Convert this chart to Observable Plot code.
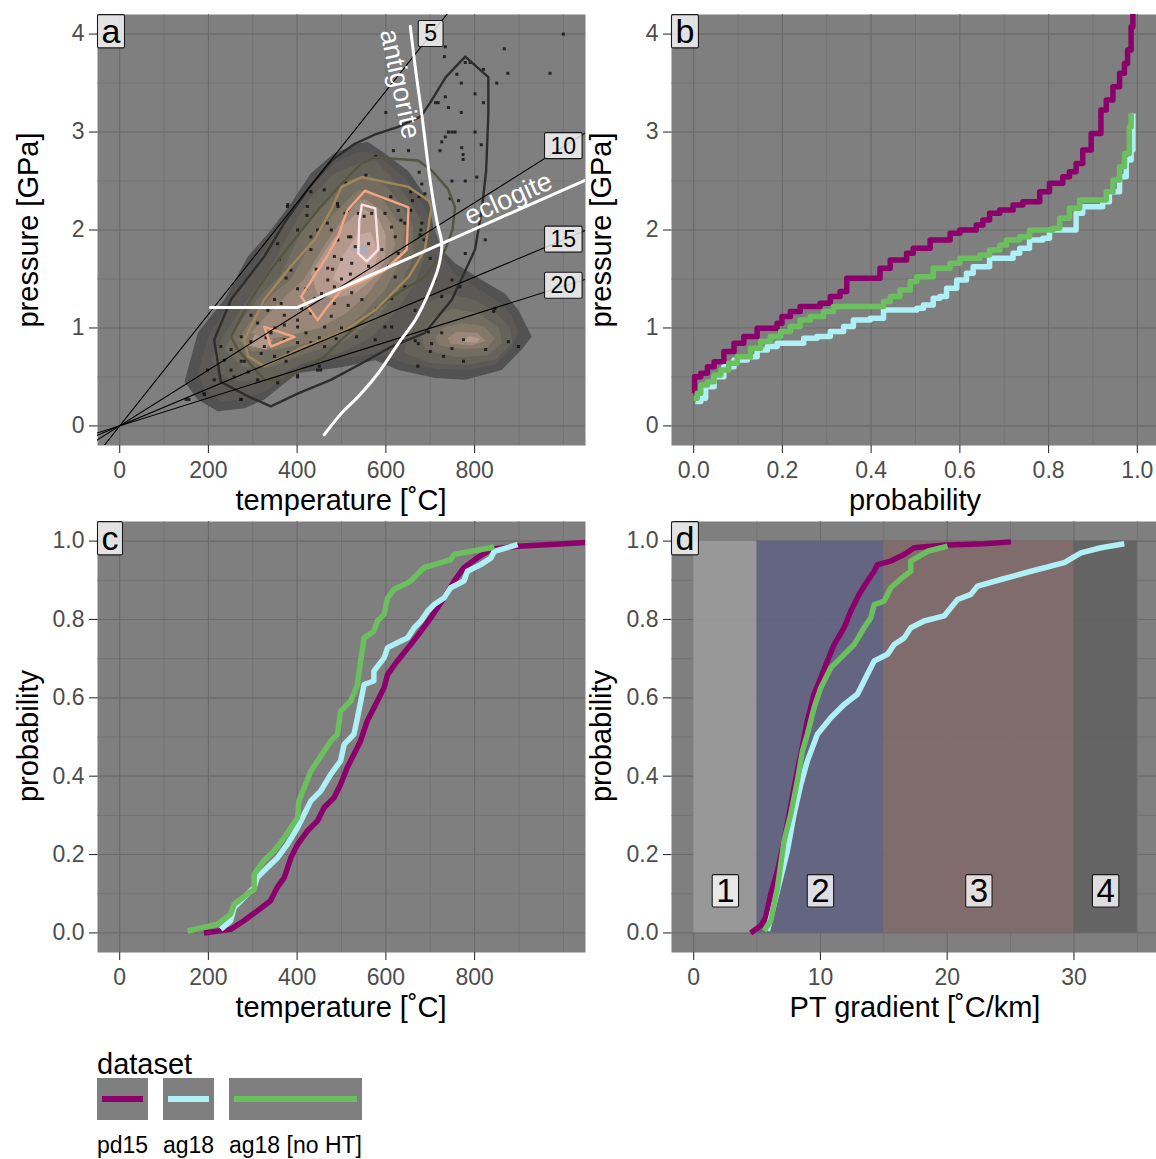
<!DOCTYPE html>
<html><head><meta charset="utf-8">
<script src="https://cdn.jsdelivr.net/npm/d3@7"></script>
<script src="https://cdn.jsdelivr.net/npm/@observablehq/plot@0.6"></script>
<style>
body{margin:0;background:#fff;}
#root{position:relative;width:1156px;height:1159px;overflow:hidden;background:#fff;font-family:'Liberation Sans',Arial,Helvetica,sans-serif;}
.pw{position:absolute;top:0;}
.ttl{position:absolute;font-size:29px;line-height:1;color:#000;white-space:nowrap;}
.leg{position:absolute;white-space:nowrap;color:#000;line-height:1;}
</style></head><body><div id="root"></div>
<script>
// ---------------- DATA ----------------
const datasets = ["pd15", "ag18", "ag18 [no HT]"];
const tempTicks = [0, 200, 400, 600, 800];
const tempMinor = [100, 300, 500, 700, 900, 1000];
const presTicks = [0, 1, 2, 3, 4];
const presMinor = [0.5, 1.5, 2.5, 3.5];
const probTicks = [0, 0.2, 0.4, 0.6, 0.8, 1.0];
const probMinor = [0.1, 0.3, 0.5, 0.7, 0.9];
const gradTicks = [0, 10, 20, 30];
const gradMinor = [5, 15, 25, 35];

// panel a: filled density levels (T [C], P [GPa]) polygons
const fillLev1 = [[[146,0.45],[176,0.95],[236,1.29],[289,1.73],[341,2.0],[386,2.27],[431,2.58],[483,2.78],[536,2.88],[559,2.9],[598,2.78],[651,2.6],[696,2.3],[707,2.03],[726,1.8],[756,1.66],[816,1.49],[869,1.35],[899,1.18],[929,0.91],[906,0.78],[861,0.57],[779,0.47],[711,0.49],[628,0.57],[576,0.67],[500,0.6],[401,0.54],[326,0.27],[281,0.18],[221,0.15],[176,0.27]]];
const fillLev2 = [[[176,0.54],[200,0.92],[255,1.3],[311,1.69],[352,1.98],[395,2.22],[440,2.5],[490,2.7],[540,2.8],[565,2.8],[600,2.7],[645,2.52],[685,2.25],[706,2.03],[722,1.76],[755,1.56],[812,1.39],[858,1.26],[885,1.12],[899,0.95],[885,0.8],[848,0.63],[785,0.57],[715,0.58],[640,0.64],[580,0.74],[500,0.68],[410,0.62],[330,0.36],[285,0.27],[228,0.25],[190,0.38]]];
const fillLev3 = [[[206,0.67],[240,0.97],[290,1.3],[341,1.63],[380,1.95],[425,2.3],[480,2.57],[540,2.68],[576,2.71],[620,2.5],[660,2.25],[688,2.03],[690,1.75],[665,1.45],[620,1.15],[565,0.9],[500,0.75],[420,0.65],[340,0.48],[270,0.45],[230,0.52]],
  [[640,0.75],[700,0.64],[780,0.62],[850,0.68],[885,0.85],[880,1.0],[850,1.15],[800,1.29],[740,1.35],[690,1.25],[655,1.0]]];
const fillLev4 = [[[236,0.78],[275,1.08],[320,1.35],[364,1.55],[405,1.95],[450,2.25],[510,2.5],[561,2.57],[605,2.43],[640,2.22],[662,2.03],[660,1.7],[625,1.35],[575,1.08],[500,0.85],[420,0.74],[340,0.6],[280,0.6]],
  [[690,0.78],[760,0.7],[830,0.72],[862,0.85],[855,1.0],[810,1.15],[750,1.2],[705,1.1],[680,0.93]]];
const fillLev5 = [[[266,0.88],[300,1.1],[345,1.35],[386,1.5],[430,1.85],[480,2.15],[530,2.38],[557,2.42],[595,2.3],[625,2.1],[643,2.03],[635,1.7],[600,1.4],[550,1.15],[500,0.95],[430,0.85],[350,0.78],[300,0.76]],
  [[720,0.82],[780,0.78],[830,0.8],[845,0.9],[820,1.02],[770,1.05],[730,1.0],[712,0.9]]];
const fillLev6 = [[[296,0.95],[330,1.12],[380,1.35],[416,1.5],[455,1.8],[500,2.1],[540,2.3],[553,2.32],[590,2.2],[615,2.05],[621,1.85],[600,1.6],[560,1.35],[510,1.15],[450,1.0],[380,0.92],[330,0.88]],
  [[745,0.84],[795,0.82],[825,0.87],[805,0.95],[760,0.96],[740,0.9]]];
const fillLev7 = [[[431,1.56],[465,1.8],[505,2.05],[546,2.22],[580,2.15],[600,1.95],[598,1.7],[570,1.5],[530,1.35],[480,1.3],[445,1.35]],
  [[290,0.82],[330,0.78],[345,0.88],[305,0.93]],
  [[770,0.86],[805,0.85],[812,0.89],[790,0.92]]];
const fillLev8 = [[[480,1.5],[505,1.75],[535,1.95],[565,1.98],[582,1.8],[575,1.6],[550,1.48],[510,1.42]]];
const fillLev9 = [[[516,1.8],[557,1.85],[557,1.75]]];

// panel a: line contours
const lineLev1 = [[228,0.45],[213,0.88],[251,1.29],[326,1.73],[371,2.07],[430,2.45],[480,2.72],[530,2.88],[573,2.97],[626,3.05],[679,3.16],[700,3.3],[735,3.56],[779,3.77],[831,3.56],[831,3.18],[826,2.6],[816,2.2],[801,1.8],[749,1.29],[688,0.95],[613,0.81],[546,0.64],[476,0.47],[401,0.33],[341,0.2],[290,0.3]];
const lineLev2 = [[251,0.91],[295,1.29],[340,1.59],[386,1.86],[446,2.2],[506,2.5],[545,2.68],[576,2.74],[673,2.71],[703,2.61],[740,2.42],[756,2.23],[750,2.0],[734,1.8],[688,1.52],[613,1.32],[561,1.12],[500,0.88],[462,0.71],[371,0.47],[326,0.47],[266,0.78]];
const lineLev3 = [[281,0.88],[326,1.29],[386,1.63],[439,1.9],[476,2.2],[500,2.44],[546,2.54],[651,2.44],[696,2.3],[703,2.24],[688,1.8],[651,1.52],[576,1.18],[500,0.95],[416,0.81],[326,0.61],[289,0.71]];
const lineLev4a = [[409,1.32],[470,1.75],[492,1.93],[513,2.2],[553,2.4],[651,2.23],[647,1.8],[598,1.59],[538,1.46],[500,1.39],[469,1.22],[446,1.08]];
const lineLev4b = [[326,1.01],[394,0.91],[341,0.81]];
const lineLev5 = [[546,2.26],[576,2.22],[583,1.8],[557,1.68],[538,1.76],[540,2.1]];

// panel a: scatter of samples (T, P)
const samples = [[1000,4.0],[734,3.87],[867,3.85],[732,3.77],[779,3.71],[790,3.71],[820,3.64],[875,3.6],[970,3.6],[760,3.59],[850,3.5],[770,3.5],[734,3.36],[801,3.39],[712,3.3],[718,3.3],[741,3.25],[820,3.3],[600,3.2],[770,3.2],[741,3.0],[749,3.0],[756,3.0],[801,3.0],[734,2.95],[726,2.9],[722,2.81],[617,2.81],[651,2.81],[771,2.84],[815,2.87],[774,2.77],[774,2.72],[675,2.59],[749,2.5],[779,2.5],[805,2.54],[681,2.47],[688,2.37],[745,2.32],[764,2.3],[660,2.3],
[577,2.75],[555,2.56],[510,2.48],[461,2.41],[431,2.39],[378,2.24],[491,2.27],[513,2.2],[551,2.14],[611,2.34],[656,2.39],[675,2.34],[656,2.2],[679,2.0],[686,1.9],[634,2.1],[423,2.24],[468,2.07],[491,1.9],[521,1.93],
[824,1.9],[779,1.76],[749,1.49],[767,1.42],[700,1.71],[711,1.49],[726,1.32],[846,1.2],[843,1.17],[876,0.86],[899,0.81],[825,0.78],[775,0.66],[672,0.61],[730,0.71],[700,0.76],[673,0.84],[666,0.87],[703,0.84],[749,0.79],[775,0.88],[726,0.95],[696,0.96],[613,1.3],[613,1.01],[598,1.01],[568,1.15],[546,1.29],[523,1.36],[515,1.23],[519,0.98],[534,0.91],[576,0.88],[636,0.88],[666,1.18],[643,1.42],[621,1.52],[606,1.63],[658,1.73],[677,1.95],[681,2.07],[508,2.17],[538,2.17],[568,2.17],[598,2.17],[628,2.2],[643,2.07],[516,1.93],[531,1.83],[561,1.86],[591,1.8],[621,1.93],[628,1.76],[523,1.66],[561,1.63],[613,2.03],
[379,2.26],[422,2.15],[360,1.7],[401,2.0],[431,1.8],[443,1.6],[469,1.61],[480,1.6],[386,1.59],[375,1.51],[401,1.4],[469,1.49],[484,1.42],[349,1.29],[334,1.18],[371,1.13],[371,1.03],[401,1.08],[401,1.01],[431,1.15],[462,1.01],[477,1.12],[484,1.25],[296,1.13],[311,1.05],[274,0.91],[296,0.86],[326,0.81],[371,0.88],[401,0.85],[431,0.85],[462,0.81],[488,0.89],[319,0.74],[349,0.71],[375,0.66],[274,0.66],[281,0.66],[251,0.78],[236,0.67],[251,0.57],[198,0.57],[213,0.47],[258,0.5],[311,0.47],[356,0.44],[401,0.5],[446,0.57],[450,0.61],[150,0.27],[191,0.32],[274,0.27],[228,0.81],[341,0.95],[364,1.25],[431,1.93],[356,1.86],[492,2.24],[492,1.9],[477,2.0],[484,1.73],[446,2.0],
[401,0.52],[453,0.57],[273,0.27],[190,0.33],[156,0.27],[440,1.3],[455,1.35],[500,1.5],[520,1.55],[420,1.4],[410,1.2],[500,1.7],[580,1.2],[420,0.95],[350,1.0],[330,0.9],[290,0.55],[380,0.75],[450,0.9],[500,1.0]];

// panel a: geotherms (C/km) drawn as lines through two end points
const geoGrad = [5, 10, 15, 20];
const geoEnds = [[[-60,-0.342],[760,4.33]], [[-60,-0.171],[1100,3.135]], [[-60,-0.114],[1100,2.09]], [[-60,-0.0855],[1100,1.5675]]];
const geoLabelPos = [[701,4.0],[1000,2.855],[1000,1.9],[1000,1.43]];
const antigorite = [[655,4.08],[668,3.6],[681,3.18],[700,2.5],[715,2.09],[726,1.86],[719,1.63],[696,1.35],[666,1.08],[628,0.84],[583,0.54],[538,0.3],[500,0.13],[461,-0.09]];
const eclogite = [[204,1.21],[401,1.21],[1060,2.53]];
const reactionLabels = ["antigorite", "eclogite"];
const reactionLabelPos = [[632,3.49],[876,2.32]];

// panel b: probability vs pressure
const b_pd15 = [[0,0.333],[0.002,0.503],[0.016,0.537],[0.031,0.605],[0.046,0.656],[0.068,0.759],[0.091,0.844],[0.113,0.912],[0.143,0.997],[0.188,1.048],[0.199,1.116],[0.218,1.167],[0.24,1.218],[0.285,1.252],[0.308,1.32],[0.33,1.371],[0.345,1.507],[0.398,1.507],[0.42,1.609],[0.443,1.694],[0.48,1.762],[0.495,1.813],[0.533,1.898],[0.578,1.966],[0.6,2.0],[0.637,2.051],[0.652,2.102],[0.667,2.17],[0.69,2.204],[0.72,2.255],[0.742,2.289],[0.78,2.391],[0.802,2.476],[0.832,2.544],[0.847,2.595],[0.862,2.68],[0.877,2.816],[0.896,2.986],[0.918,3.224],[0.93,3.327],[0.945,3.463],[0.96,3.599],[0.971,3.701],[0.978,3.837],[0.986,4.075],[0.99,4.3]];
const b_ag18 = [[0.004,0.248],[0.016,0.282],[0.027,0.401],[0.046,0.503],[0.068,0.605],[0.091,0.673],[0.121,0.707],[0.143,0.776],[0.166,0.81],[0.188,0.844],[0.233,0.844],[0.248,0.895],[0.278,0.912],[0.308,0.963],[0.338,1.014],[0.36,1.082],[0.398,1.099],[0.428,1.184],[0.503,1.201],[0.518,1.235],[0.54,1.303],[0.555,1.32],[0.57,1.405],[0.593,1.49],[0.615,1.558],[0.63,1.626],[0.652,1.626],[0.667,1.711],[0.705,1.711],[0.72,1.762],[0.735,1.813],[0.757,1.898],[0.787,1.915],[0.802,2.0],[0.847,2.0],[0.862,2.17],[0.877,2.238],[0.922,2.289],[0.937,2.391],[0.96,2.544],[0.975,2.714],[0.986,2.816],[0.99,3.19]];
const b_noHT = [[0,0.282],[0.008,0.333],[0.016,0.418],[0.031,0.452],[0.046,0.52],[0.061,0.571],[0.079,0.639],[0.098,0.707],[0.128,0.793],[0.151,0.861],[0.173,0.912],[0.196,0.963],[0.218,1.014],[0.24,1.082],[0.263,1.116],[0.293,1.167],[0.315,1.218],[0.398,1.218],[0.428,1.269],[0.443,1.32],[0.465,1.388],[0.488,1.473],[0.503,1.524],[0.54,1.609],[0.578,1.66],[0.6,1.711],[0.645,1.745],[0.667,1.796],[0.69,1.847],[0.705,1.898],[0.735,1.932],[0.757,2.0],[0.81,2.017],[0.825,2.119],[0.847,2.221],[0.87,2.306],[0.915,2.306],[0.93,2.391],[0.945,2.51],[0.96,2.646],[0.971,2.782],[0.982,3.054],[0.986,3.19]];

// panel c: temperature vs cumulative probability
const c_pd15 = [[190,0],[250,0.009],[280,0.031],[310,0.056],[340,0.082],[355,0.116],[371,0.141],[386,0.192],[401,0.226],[423,0.26],[446,0.286],[461,0.32],[483,0.345],[498,0.379],[513,0.422],[528,0.456],[543,0.49],[558,0.541],[581,0.592],[596,0.626],[604,0.66],[626,0.694],[656,0.736],[679,0.77],[701,0.804],[731,0.855],[754,0.898],[776,0.932],[806,0.957],[837,0.979],[897,0.987],[972,0.991],[1060,0.997]];
const c_ag18 = [[228,0.009],[250,0.031],[258,0.065],[288,0.099],[303,0.116],[310,0.141],[333,0.167],[356,0.192],[378,0.226],[401,0.269],[416,0.303],[431,0.337],[453,0.362],[476,0.405],[498,0.439],[506,0.481],[528,0.507],[536,0.549],[551,0.634],[573,0.643],[573,0.668],[596,0.702],[604,0.728],[634,0.745],[649,0.753],[664,0.779],[679,0.796],[694,0.821],[709,0.838],[731,0.855],[746,0.881],[776,0.898],[784,0.923],[814,0.94],[837,0.957],[844,0.974],[897,0.991]];
const c_noHT = [[153,0.005],[220,0.022],[250,0.048],[258,0.073],[288,0.099],[303,0.111],[303,0.15],[325,0.184],[348,0.209],[371,0.243],[386,0.269],[401,0.294],[404,0.337],[431,0.413],[446,0.439],[476,0.49],[491,0.507],[498,0.566],[521,0.592],[536,0.634],[543,0.694],[551,0.753],[573,0.77],[581,0.796],[596,0.813],[604,0.855],[619,0.877],[641,0.889],[656,0.898],[671,0.915],[686,0.932],[709,0.94],[746,0.953],[754,0.966],[792,0.974],[837,0.983],[844,0.987]];

// panel d: PT gradient vs cumulative probability
const d_pd15 = [[4.5,0],[5.29,0.018],[5.68,0.039],[6.08,0.099],[6.61,0.158],[7.13,0.235],[7.53,0.303],[7.92,0.371],[8.45,0.456],[8.97,0.541],[9.5,0.609],[10.03,0.651],[10.55,0.694],[11.08,0.736],[11.87,0.779],[12.39,0.821],[13.05,0.864],[13.71,0.898],[14.24,0.923],[14.5,0.94],[15.55,0.949],[16.61,0.966],[17.39,0.983],[18.71,0.987],[20.03,0.99],[22.92,0.993],[25.03,0.998]];
const d_ag18 = [[5.82,0.005],[6.34,0.073],[6.87,0.141],[7.39,0.209],[7.92,0.303],[8.45,0.379],[8.97,0.439],[9.76,0.507],[10.82,0.549],[11.87,0.583],[12.92,0.609],[13.71,0.66],[14.24,0.694],[15.29,0.711],[15.82,0.736],[16.61,0.753],[17.13,0.779],[18.18,0.796],[19.76,0.809],[20.82,0.851],[21.87,0.864],[22.39,0.885],[24.24,0.902],[26.61,0.923],[29.24,0.945],[30.55,0.97],[32.13,0.983],[33.97,0.993]];
const d_noHT = [[5.55,0.005],[6.08,0.031],[6.61,0.116],[7.13,0.235],[7.66,0.303],[8.18,0.388],[8.58,0.464],[8.97,0.507],[9.5,0.575],[10.03,0.626],[10.82,0.677],[11.61,0.702],[12.66,0.736],[13.45,0.779],[13.97,0.804],[14.24,0.838],[15.03,0.847],[15.55,0.881],[16.61,0.911],[17.13,0.923],[17.13,0.949],[18.45,0.974],[20.03,0.987]];
const bandStart = [0, 5, 15, 30];
const bandEnd = [5, 15, 30, 35];
const bandNames = ["1", "2", "3", "4"];
const bandLabelX = [2.5, 10, 22.5, 32.5];
const bandLabelP = 0.105;

// ---------------- STYLE ----------------
const FONT = "'Liberation Sans', Arial, Helvetica, sans-serif";
const BG = "#7f7f7f", GRID = "#6b6b6b";
const COLORS = ["#8c006b", "#aef0f5", "#6cbf5f"];
const FILL_COLORS = ["#525252", "#5b5855", "#65625a", "#726c61", "#847869", "#9a8779", "#b2998c", "#c6a9a1", "#a9adb6"];
const LINE_COLORS = ["#2e2e2e", "#56553f", "#a3875a", "#f4a582", "#fbe3e0"];
const BAND_COLORS = ["#9a9a9a", "#616381", "#806a6a", "#626262"];
const fillLevels = [fillLev1, fillLev2, fillLev3, fillLev4, fillLev5, fillLev6, fillLev7, fillLev8, fillLev9];
const fmt1 = d3.format(".1f");

const X = d => d[0], Y = d => d[1];

function frameMarks(xMaj, xMin, yMaj, yMin, xFmt, yFmt) {
  return [
    Plot.frame({fill: BG, stroke: "none"}),
    Plot.gridX(xMin, {stroke: GRID, strokeOpacity: 1, strokeWidth: 0.6}),
    Plot.gridY(yMin, {stroke: GRID, strokeOpacity: 1, strokeWidth: 0.6}),
    Plot.gridX(xMaj, {stroke: GRID, strokeOpacity: 1, strokeWidth: 1.15}),
    Plot.gridY(yMaj, {stroke: GRID, strokeOpacity: 1, strokeWidth: 1.15}),
    Plot.axisX(xMaj, {tickSize: 8, tickPadding: 8, fontSize: 23, stroke: "#333", strokeWidth: 1.1, fill: "#4d4d4d", tickFormat: xFmt, label: null}),
    Plot.axisY(yMaj, {tickSize: 8, tickPadding: 5, fontSize: 23, stroke: "#333", strokeWidth: 1.1, fill: "#4d4d4d", tickFormat: yFmt, label: null})
  ];
}
function letter(l) {
  return Plot.text([l], {text: d => d, frameAnchor: "top-left", textAnchor: "start", lineAnchor: "top", dx: 4, dy: 4.6, fontSize: 34, fill: "#000", ariaDescription: "boxed"});
}
function seriesLines(arrs, curve) {
  return arrs.map((a, i) => Plot.line(a, {x: X, y: Y, stroke: COLORS[i], strokeWidth: 5.5, curve, clip: true, strokeLinejoin: "round", strokeLinecap: "butt"}));
}
const common = {width: 585, height: 520, marginTop: 14, marginBottom: 75, style: {fontFamily: FONT, fontSize: "23px", background: "transparent", overflow: "visible"}};
const leftM = {marginLeft: 97, marginRight: 0};
const rightM = {marginLeft: 86, marginRight: 11};

// panel a
const geoRows = geoEnds.flatMap((e, i) => e.map(p => ({T: p[0], P: p[1], g: geoGrad[i]})));
const pA = Plot.plot({...common, ...leftM,
  x: {domain: [-50, 1050]}, y: {domain: [-0.2, 4.2]},
  marks: [
    ...frameMarks(tempTicks, tempMinor, presTicks, presMinor, d => String(d), d => String(d)),
    ...fillLevels.flatMap((lev, i) => lev.map(poly => Plot.line(poly, {x: X, y: Y, curve: "linear-closed", fill: FILL_COLORS[i], stroke: "none"}))),
    Plot.dot(samples, {x: X, y: Y, symbol: "square", r: 1.7, fill: "#141414", fillOpacity: 0.85, stroke: "none"}),
    ...[lineLev1, lineLev2, lineLev3, lineLev4a, lineLev4b, lineLev5].map((poly, i) =>
      Plot.line(poly, {x: X, y: Y, curve: "linear-closed", stroke: LINE_COLORS[Math.min(i, 3) + (i === 5 ? 1 : 0)], strokeWidth: 2.4, strokeLinejoin: "round"})),
    Plot.line(geoRows, {x: "T", y: "P", z: "g", stroke: "#000", strokeWidth: 1.1, clip: true}),
    Plot.line(antigorite, {x: X, y: Y, curve: "catmull-rom", stroke: "#fff", strokeWidth: 3, clip: true}),
    Plot.line(eclogite, {x: X, y: Y, stroke: "#fff", strokeWidth: 3, clip: true}),
    Plot.text(geoLabelPos, {x: X, y: Y, text: (d, i) => String(geoGrad[i]), fontSize: 23, fill: "#000", ariaDescription: "boxed-geo"}),
    Plot.text([reactionLabelPos[0]], {x: X, y: Y, text: () => reactionLabels[0], rotate: 78, fontSize: 27, fill: "#fff"}),
    Plot.text([reactionLabelPos[1]], {x: X, y: Y, text: () => reactionLabels[1], rotate: -24, fontSize: 27, fill: "#fff"}),
    letter("a")
  ]});

// panel b
const pB = Plot.plot({...common, ...rightM,
  x: {domain: [-0.05, 1.05]}, y: {domain: [-0.2, 4.2]},
  marks: [
    ...frameMarks(probTicks, probMinor, presTicks, presMinor, fmt1, d => String(d)),
    ...seriesLines([b_pd15, b_ag18, b_noHT], "step-after"),
    letter("b")
  ]});

// panel c
const pC = Plot.plot({...common, ...leftM,
  x: {domain: [-50, 1050]}, y: {domain: [-0.05, 1.05]},
  marks: [
    ...frameMarks(tempTicks, tempMinor, probTicks, probMinor, d => String(d), fmt1),
    ...seriesLines([c_pd15, c_ag18, c_noHT], "linear"),
    letter("c")
  ]});

// panel d
const pD = Plot.plot({...common, ...rightM,
  x: {domain: [-1.75, 36.75]}, y: {domain: [-0.05, 1.05]},
  marks: [
    ...frameMarks(gradTicks, gradMinor, probTicks, probMinor, d => String(d), fmt1),
    ...bandStart.map((s, i) => Plot.rect([{x1: s, x2: bandEnd[i], y1: 0, y2: 1}], {x1: "x1", x2: "x2", y1: "y1", y2: "y2", fill: BAND_COLORS[i], fillOpacity: 0.92})),
    ...seriesLines([d_pd15, d_ag18, d_noHT], "linear"),
    Plot.text(bandNames, {x: (d, i) => bandLabelX[i], y: () => bandLabelP, text: d => d, fontSize: 33, fill: "#000", ariaDescription: "boxed"}),
    letter("d")
  ]});

// ---------------- LAYOUT ----------------
const root = document.getElementById("root");
function place(el, left, top) {
  const w = document.createElement("div");
  w.className = "pw"; w.style.left = left + "px"; w.style.top = top + "px"; w.style.width = "585px";
  w.appendChild(el); root.appendChild(w);
}
place(pA, 0, 0); place(pB, 585, 0); place(pC, 0, 507); place(pD, 585, 507);

function title(txt, cx, cy, rot) {
  const d = document.createElement("div");
  d.className = "ttl"; d.textContent = txt;
  d.style.left = cx + "px"; d.style.top = cy + "px";
  d.style.transform = "translate(-50%,-50%)" + (rot ? " rotate(-90deg)" : "");
  root.appendChild(d);
}
title("temperature [˚C]", 341, 500); title("probability", 915, 500);
title("temperature [˚C]", 341, 1007); title("PT gradient [˚C/km]", 915, 1007);
title("pressure [GPa]", 27.5, 229.5, true); title("pressure [GPa]", 601, 229.5, true);
title("probability", 27.5, 736, true); title("probability", 601, 736, true);

// legend
function legText(txt, left, top, size) {
  const d = document.createElement("div");
  d.className = "leg"; d.textContent = txt; d.style.left = left + "px"; d.style.top = top + "px"; d.style.fontSize = size + "px";
  root.appendChild(d); return d;
}
legText("dataset", 97, 1050, 29);
let lx = 97;
datasets.forEach((name, i) => {
  const lab = legText(name, lx, 1134, 23);
  const w = Math.max(51, Math.round(lab.getBoundingClientRect().width));
  const box = document.createElement("div");
  box.style.cssText = `position:absolute;left:${lx}px;top:1078px;width:${w}px;height:42px;background:${BG};`;
  const ln = document.createElement("div");
  ln.style.cssText = `position:absolute;left:5px;right:5px;top:18px;height:6px;background:${COLORS[i]};`;
  box.appendChild(ln); root.appendChild(box);
  lx += w + 15;
});

// label boxes behind boxed text
const NS = "http://www.w3.org/2000/svg";
root.querySelectorAll('g[aria-description^="boxed"]').forEach(g => {
  const geo = g.getAttribute("aria-description") === "boxed-geo";
  g.querySelectorAll("text").forEach(t => {
    const b = t.getBBox();
    const fs = parseFloat(getComputedStyle(t).fontSize) || 23;
    const padX = geo ? 6 : 4;
    const h = geo ? 1.13 * fs : 0.98 * fs;
    const cy = b.y + b.height / 2;
    const r = document.createElementNS(NS, "rect");
    r.setAttribute("x", b.x - padX); r.setAttribute("y", cy - h / 2);
    r.setAttribute("width", b.width + 2 * padX); r.setAttribute("height", h);
    r.setAttribute("fill", "#fff"); r.setAttribute("fill-opacity", "0.78");
    r.setAttribute("stroke", "#1a1a1a"); r.setAttribute("stroke-width", "1.1"); r.setAttribute("rx", "1.5");
    const tr = t.getAttribute("transform"); if (tr) r.setAttribute("transform", tr);
    t.parentNode.insertBefore(r, t);
  });
});
</script></body></html>
